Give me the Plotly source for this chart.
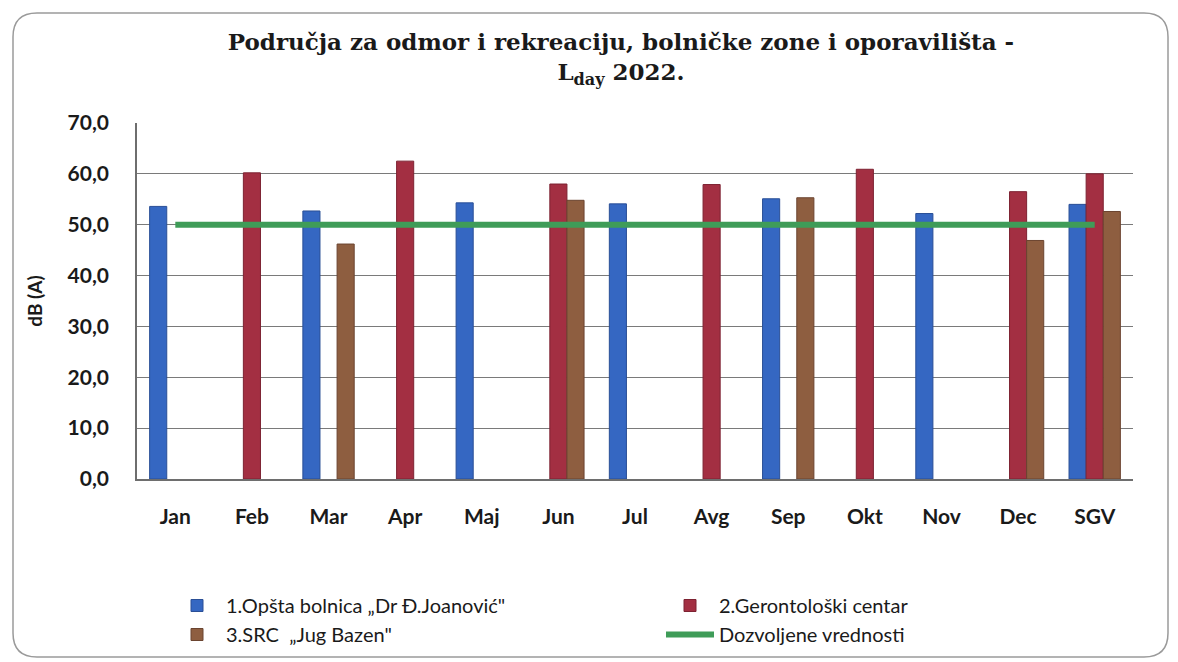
import plotly.graph_objects as go

months = ["Jan", "Feb", "Mar", "Apr", "Maj", "Jun", "Jul", "Avg", "Sep", "Okt", "Nov", "Dec", "SGV"]
s1_name = "1.Opšta bolnica „Dr Đ.Joanović\""
s2_name = "2.Gerontološki centar"
s3_name = "3.SRC  „Jug Bazen\""
line_name = "Dozvoljene vrednosti"

s1_vals = [53.6, None, 52.7, None, 54.3, None, 54.1, None, 55.1, None, 52.2, None, 54.0]
s2_vals = [None, 60.2, None, 62.5, None, 58.0, None, 57.9, None, 60.9, None, 56.5, 60.0]
s3_vals = [None, None, 46.2, None, None, 54.8, None, None, 55.3, None, None, 46.9, 52.6]
limit_vals = [50, 50, 50, 50, 50, 50, 50, 50, 50, 50, 50, 50, 50]

y_ticks = [0, 10, 20, 30, 40, 50, 60, 70]

fig = go.Figure()
fig.add_trace(go.Bar(x=months, y=s1_vals, name=s1_name,
                     marker=dict(color="#3567c2", line=dict(color="#2a4f96", width=1))))
fig.add_trace(go.Bar(x=months, y=s2_vals, name=s2_name,
                     marker=dict(color="#a32f42", line=dict(color="#7d2232", width=1))))
fig.add_trace(go.Bar(x=months, y=s3_vals, name=s3_name,
                     marker=dict(color="#8e5e40", line=dict(color="#6b4430", width=1))))
fig.add_trace(go.Scatter(x=months, y=limit_vals, name=line_name, mode="lines",
                         line=dict(color="#3f9c58", width=6)))

# the page body adds an 8px margin, so the figure is laid out 8px smaller
OFF = 8
W, H = 1178 - OFF, 662 - OFF
L, R, T, B = 137 - OFF, 45, 123 - OFF, 183
pw, ph = W - L - R, H - T - B

def px_x(p):
    return (p - OFF - L) / pw

def px_y(p):
    return (H - B - (p - OFF)) / ph

x0, x1, y0, y1 = px_x(13), px_x(1168), px_y(657), px_y(13)
rx, ry = 24 / pw, 24 / ph
path = (f"M {x0+rx} {y1} L {x1-rx} {y1} Q {x1} {y1} {x1} {y1-ry} "
        f"L {x1} {y0+ry} Q {x1} {y0} {x1-rx} {y0} L {x0+rx} {y0} "
        f"Q {x0} {y0} {x0} {y0+ry} L {x0} {y1-ry} Q {x0} {y1} {x0+rx} {y1} Z")

fig.update_layout(
    width=W, height=H,
    margin=dict(l=L, r=R, t=T, b=B, autoexpand=False),
    paper_bgcolor="white", plot_bgcolor="white",
    barmode="group", bargap=0.33, bargroupgap=0,
    separators=",.",
    title=dict(text="Područja za odmor i rekreaciju, bolničke zone i oporavilišta -<br>L<sub>day</sub> 2022.",
               x=(621 - OFF) / W, xanchor="center", xref="container",
               y=1 - 42 / H, yanchor="top", yref="container",
               font=dict(family="DejaVu Serif", size=23, color="#1a1a1a", weight="bold")),
    font=dict(family="Lato", color="#1a1a1a"),
    legend=dict(orientation="h", x=px_x(168), xanchor="left", y=px_y(586), yanchor="top",
                entrywidth=430, entrywidthmode="pixels", itemwidth=48,
                font=dict(family="Lato", size=20, color="#1a1a1a"),
                tracegroupgap=0, bgcolor="rgba(0,0,0,0)"),
    shapes=[dict(type="path", path=path, xref="paper", yref="paper",
                 line=dict(color="#9a9a9a", width=1.5), fillcolor="rgba(0,0,0,0)", layer="below")],
)
fig.update_xaxes(showline=True, linecolor="#6e6e6e", linewidth=1.5, showgrid=False,
                 ticks="", ticklabelstandoff=18,
                 tickfont=dict(family="Lato", size=21, color="#1a1a1a", weight="bold"))
fig.update_yaxes(range=[0, 70], tickvals=y_ticks, tickformat=".1f",
                 showline=True, linecolor="#6e6e6e", linewidth=1.5,
                 showgrid=True, gridcolor="#7a7a7a", gridwidth=1, zeroline=False,
                 ticks="", ticklabelstandoff=22,
                 tickfont=dict(family="Lato", size=21, color="#1a1a1a", weight="bold"),
                 title=dict(text="dB (A)", standoff=20,
                            font=dict(family="Lato", size=19, color="#1a1a1a", weight="bold")))

fig.write_html("out.html")
